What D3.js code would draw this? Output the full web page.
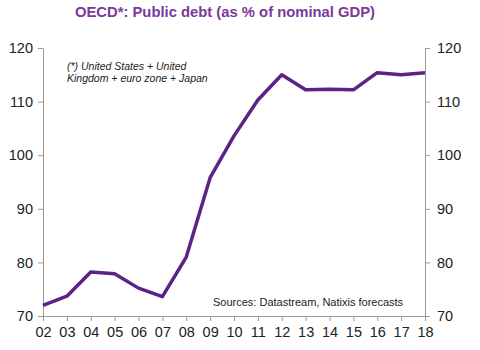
<!DOCTYPE html>
<html>
<head>
<meta charset="utf-8">
<script src="https://cdn.jsdelivr.net/npm/d3@7"></script>
<style>
  body { margin: 0; background: #fff; }
  svg { font-family: "Liberation Sans", Arial, sans-serif; }
</style>
</head>
<body>
<div id="container"></div>
<script>
// data
const years = ["02","03","04","05","06","07","08","09","10","11","12","13","14","15","16","17","18"];
const debt = [72.0, 73.7, 78.2, 77.9, 75.2, 73.6, 81.0, 95.8, 103.6, 110.3, 115.0, 112.2, 112.3, 112.2, 115.4, 115.0, 115.4];
const yTicks = [70, 80, 90, 100, 110, 120];

const width = 480, height = 350;
const margin = { top: 48, bottom: 34, left: 43, right: 55 };

const svg = d3.select("#container")
  .append("svg")
  .attr("width", width)
  .attr("height", height);

const x = d3.scalePoint()
  .domain(years)
  .range([margin.left, width - margin.right]);

const y = d3.scaleLinear()
  .domain([70, 120])
  .range([height - margin.bottom, margin.top]);

// title
svg.append("text")
  .attr("x", 225)
  .attr("y", 17)
  .attr("text-anchor", "middle")
  .attr("font-size", 14.8)
  .attr("font-weight", "bold")
  .attr("fill", "#7a3a9a")
  .text("OECD*: Public debt (as % of nominal GDP)");

const styleAxis = g => {
  g.selectAll(".domain").attr("stroke", "#999");
  g.selectAll(".tick line").attr("stroke", "#999");
  g.selectAll(".tick text")
    .attr("fill", "#222")
    .attr("font-size", 14.5)
    .attr("font-family", "Liberation Sans, Arial, sans-serif");
};

svg.append("g")
  .attr("transform", `translate(${margin.left},0)`)
  .call(d3.axisLeft(y).tickValues(yTicks).tickSize(5).tickSizeOuter(0).tickPadding(5))
  .call(styleAxis);

svg.append("g")
  .attr("transform", `translate(${width - margin.right},0)`)
  .call(d3.axisRight(y).tickValues(yTicks).tickSize(5).tickSizeOuter(0).tickPadding(7))
  .call(styleAxis);

svg.append("g")
  .attr("transform", `translate(0,${height - margin.bottom})`)
  .call(d3.axisBottom(x).tickSize(5).tickSizeOuter(0).tickPadding(6))
  .call(styleAxis);

// annotations
const note = svg.append("text")
  .attr("font-size", 10.5)
  .attr("font-style", "italic")
  .attr("fill", "#222");
note.append("tspan").attr("x", 67).attr("y", 70).text("(*) United States + United");
note.append("tspan").attr("x", 67).attr("y", 82).text("Kingdom + euro zone + Japan");

svg.append("text")
  .attr("x", 213)
  .attr("y", 306)
  .attr("font-size", 11)
  .attr("fill", "#222")
  .text("Sources: Datastream, Natixis forecasts");

// line
const line = d3.line()
  .x((d, i) => x(years[i]))
  .y(d => y(d));

svg.append("path")
  .datum(debt)
  .attr("fill", "none")
  .attr("stroke", "#5b2385")
  .attr("stroke-width", 3.5)
  .attr("stroke-linejoin", "round")
  .attr("d", line);
</script>
</body>
</html>
